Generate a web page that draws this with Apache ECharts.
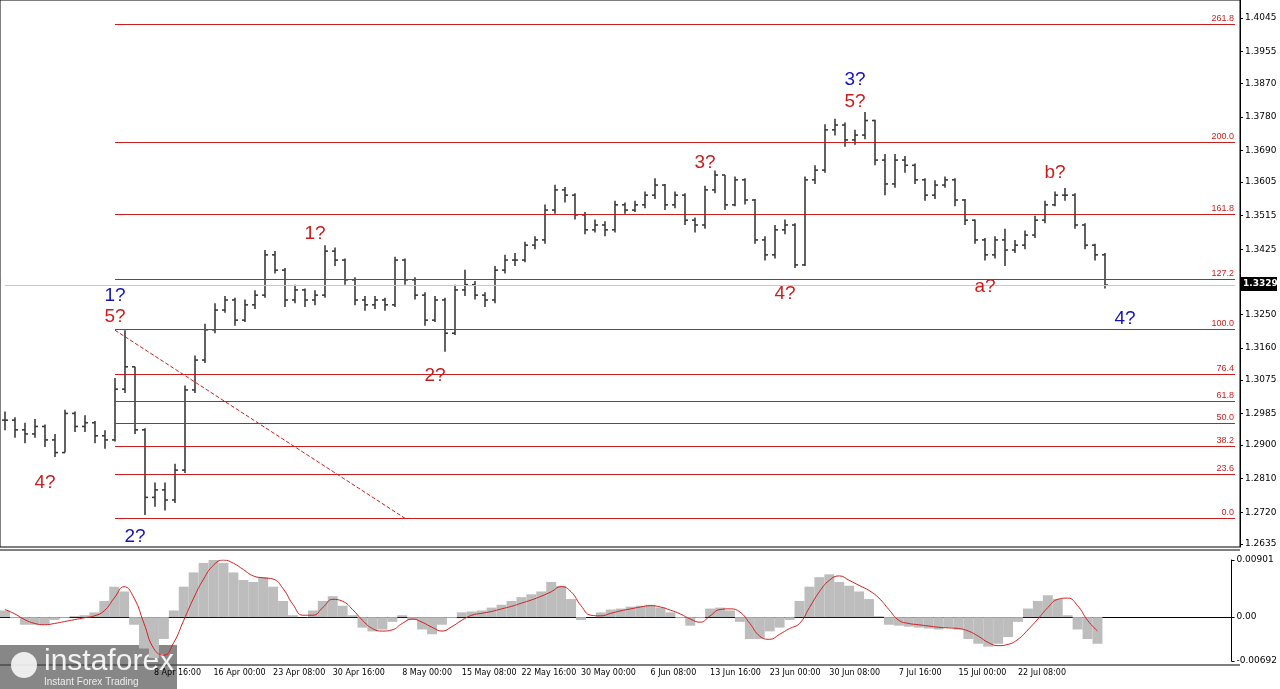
<!DOCTYPE html>
<html><head><meta charset="utf-8">
<script src="https://cdn.jsdelivr.net/npm/echarts@6/dist/echarts.min.js"></script>
<style>html,body{margin:0;padding:0;background:#fff}#c{width:1280px;height:689px}</style>
</head><body><div id="c"></div>
<script>
const closes=[1.2967,1.2941,1.2930,1.2950,1.2914,1.2880,1.2985,1.2950,1.2960,1.2925,
1.2914,1.3050,1.3110,1.2941,1.2760,1.2780,1.2753,1.2833,1.3048,1.3128,
1.3209,1.3262,1.3289,1.3235,1.3276,1.3302,1.3410,1.3369,1.3289,1.3316,
1.3289,1.3302,1.3420,1.3396,1.3343,1.3289,1.3276,1.3289,1.3276,1.3396,
1.3343,1.3302,1.3235,1.3289,1.3200,1.3316,1.3330,1.3302,1.3289,1.3369,
1.3396,1.3396,1.3436,1.3450,1.3530,1.3584,1.3570,1.3517,1.3477,1.3490,
1.3477,1.3544,1.3530,1.3544,1.3570,1.3597,1.3544,1.3570,1.3503,1.3490,
1.3584,1.3624,1.3544,1.3611,1.3557,1.3450,1.3410,1.3477,1.3490,1.3383,
1.3611,1.3637,1.3745,1.3758,1.3718,1.3731,1.3770,1.3664,1.3600,1.3664,
1.3650,1.3611,1.3570,1.3597,1.3611,1.3557,1.3503,1.3450,1.3410,1.3450,
1.3423,1.3436,1.3463,1.3503,1.3544,1.3570,1.3570,1.3490,1.3436,1.3410,
1.3329];
const highs=[1.2990,1.2975,1.2960,1.2970,1.2955,1.2930,1.2995,1.2990,1.2980,1.2965,
1.2940,1.3080,1.3208,1.3110,1.2945,1.2800,1.2800,1.2850,1.3060,1.3140,
1.3225,1.3280,1.3300,1.3295,1.3290,1.3315,1.3423,1.3420,1.3375,1.3330,
1.3320,1.3315,1.3436,1.3430,1.3400,1.3350,1.3300,1.3300,1.3295,1.3405,
1.3400,1.3350,1.3310,1.3300,1.3295,1.3330,1.3370,1.3340,1.3310,1.3380,
1.3410,1.3415,1.3445,1.3460,1.3545,1.3598,1.3592,1.3575,1.3525,1.3505,
1.3500,1.3555,1.3550,1.3555,1.3580,1.3615,1.3600,1.3580,1.3575,1.3510,
1.3595,1.3636,1.3624,1.3620,1.3615,1.3560,1.3460,1.3490,1.3505,1.3495,
1.3620,1.3650,1.3760,1.3775,1.3765,1.3745,1.3793,1.3772,1.3680,1.3680,
1.3675,1.3655,1.3615,1.3610,1.3620,1.3615,1.3560,1.3505,1.3455,1.3460,
1.3480,1.3450,1.3475,1.3515,1.3555,1.3580,1.3589,1.3575,1.3495,1.3440,
1.3415];
const lows=[1.2940,1.2920,1.2905,1.2920,1.2895,1.2868,1.2880,1.2935,1.2935,1.2905,
1.2890,1.2910,1.3040,1.2930,1.2713,1.2735,1.2725,1.2745,1.2825,1.3040,
1.3120,1.3200,1.3255,1.3220,1.3230,1.3265,1.3295,1.3360,1.3270,1.3280,
1.3270,1.3275,1.3295,1.3380,1.3330,1.3275,1.3260,1.3265,1.3260,1.3270,
1.3330,1.3290,1.3220,1.3230,1.3150,1.3195,1.3300,1.3290,1.3270,1.3280,
1.3360,1.3380,1.3390,1.3425,1.3440,1.3520,1.3550,1.3505,1.3465,1.3470,
1.3460,1.3470,1.3520,1.3525,1.3535,1.3560,1.3530,1.3535,1.3490,1.3470,
1.3480,1.3575,1.3530,1.3540,1.3545,1.3440,1.3395,1.3400,1.3465,1.3375,
1.3380,1.3600,1.3630,1.3730,1.3700,1.3705,1.3720,1.3650,1.3570,1.3590,
1.3630,1.3600,1.3555,1.3560,1.3590,1.3540,1.3490,1.3440,1.3395,1.3400,
1.3380,1.3415,1.3425,1.3455,1.3495,1.3540,1.3555,1.3480,1.3425,1.3395,
1.3320];
const macdHist=[0.00105,-0.00015,-0.0012,-0.0012,-0.0012,-0.00045,-0.00015,0.00015,0.0003,0.00075,
0.00255,0.0048,0.00405,-0.0012,-0.00495,-0.00645,-0.00345,0.00105,0.0048,0.00705,
0.00855,0.00915,0.00855,0.00705,0.00585,0.00555,0.0063,0.0048,0.00255,0.0003,
0,0.00105,0.00255,0.0033,0.0018,0.0003,-0.00165,-0.00225,-0.00195,-0.00075,
0.0003,-0.00045,-0.00195,-0.0027,-0.0012,-0.00015,0.00075,0.0009,0.00105,0.0015,
0.00195,0.00255,0.00315,0.0036,0.00405,0.00555,0.00495,0.00285,-0.00045,0,
0.00075,0.0012,0.00135,0.00165,0.0018,0.00195,0.0015,0.00075,-0.00015,-0.00135,
-0.00015,0.00135,0.0015,0.00105,-0.00075,-0.00345,-0.00345,-0.00225,-0.00165,-0.00045,
0.00255,0.0048,0.0063,0.00675,0.00555,0.00495,0.00405,0.00285,0.00015,-0.0012,
-0.00135,-0.0015,-0.00165,-0.0018,-0.00195,-0.00165,-0.00195,-0.00345,-0.0042,-0.00465,
-0.0042,-0.00315,-0.00075,0.00135,0.00255,0.00345,0.00285,0.0003,-0.00195,-0.00345,
-0.0042];
const macdSignal=[0.0012,0.0005,-0.0004,-0.0010,-0.0012,-0.0010,-0.0007,-0.0004,-0.0001,0.0002,
0.0010,0.0030,0.0048,0.0030,-0.0010,-0.0050,-0.0060,-0.0040,-0.0005,0.0030,
0.0060,0.0082,0.0090,0.0085,0.0075,0.0065,0.0062,0.0060,0.0045,0.0020,
0.0003,0.0003,0.0015,0.0028,0.0025,0.0012,-0.0005,-0.0018,-0.0022,-0.0020,
-0.0010,-0.0003,-0.0008,-0.0016,-0.0022,-0.0015,-0.0005,0.0003,0.0006,0.0009,
0.0013,0.0017,0.0022,0.0027,0.0033,0.0040,0.0048,0.0040,0.0018,0.0003,
0.0002,0.0006,0.0010,0.0013,0.0016,0.0018,0.0016,0.0011,0.0005,-0.0003,
-0.0008,0.0002,0.0012,0.0013,0.0008,-0.0010,-0.0030,-0.0035,-0.0027,-0.0018,
-0.0010,0.0015,0.0040,0.0058,0.0065,0.0058,0.0050,0.0042,0.0030,0.0012,
-0.0005,-0.0010,-0.0012,-0.0014,-0.0016,-0.0017,-0.0018,-0.0022,-0.0030,-0.0040,
-0.0045,-0.0043,-0.0035,-0.0020,-0.0003,0.0015,0.0028,0.0030,0.0018,-0.0005,
-0.0022];
const priceTicks=[1.2635,1.2720,1.2810,1.2900,1.2985,1.3075,1.3160,1.3250,1.3425,1.3515,1.3605,1.3690,1.3780,1.3870,1.3955,1.4045];
const macdTicks=[-0.00692,0,0.00901];
const fibLabels=['0.0','23.6','38.2','50.0','61.8','76.4','100.0','127.2','161.8','200.0','261.8'];
const fibValues=[1.2704,1.2822,1.2897,1.2959,1.3018,1.3090,1.3211,1.3345,1.3519,1.3712,1.4029];
const dateLabels=['8 Apr 16:00','16 Apr 00:00','23 Apr 08:00','30 Apr 16:00','8 May 00:00','15 May 08:00','22 May 16:00','30 May 00:00','6 Jun 08:00','13 Jun 16:00','23 Jun 00:00','30 Jun 08:00','7 Jul 16:00','15 Jul 00:00','22 Jul 08:00'];
const dateIdx=[15,21,27,33,40,46,52,58,65,71,77,83,90,96,102];
const waveText=['4?','1?','5?','2?','1?','2?','3?','4?','3?','5?','a?','b?','4?'];
const waveIdx=[4,11,11,13,31,43,70,78,85,85,98,105,112];
const waveVal=[1.2798,1.3301,1.3243,1.2655,1.3467,1.3085,1.3657,1.3305,1.3878,1.3819,1.3325,1.3629,1.3240];
const waveColor=['r','b','r','b','r','r','r','r','b','r','r','r','b'];
const lastPrice=1.3329;

const N=124;
const cats=[];for(let i=0;i<N;i++)cats.push(i);
const ohlc=closes.map((c,i)=>[i,i>0?closes[i-1]:c,c,lows[i],highs[i]]);
const RED='#c81e1e',BLUE='#1414b4';
const fibLines=fibValues.map((v,k)=>[{coord:[11,v],label:{show:true,formatter:fibLabels[k],position:'insideEndTop',color:RED,fontSize:9,distance:1}},{coord:[N-1,v]}]);
fibLines.push([{coord:[11,1.3208],lineStyle:{type:'dashed',width:1,color:RED},label:{show:false}},{coord:[40,1.2704]}]);
fibLines.push([{coord:[0,lastPrice],lineStyle:{color:'#c8c8c8',width:1},label:{show:false}},{coord:[N-1,lastPrice]}]);
const chart=echarts.init(document.getElementById('c'));
chart.setOption({
animation:false,
grid:[{left:0,right:40,top:0,height:547,show:true,borderColor:'#000',borderWidth:1},
      {left:0,right:40,top:560,height:101}],
xAxis:[{type:'category',data:cats,gridIndex:0,axisLabel:{show:false},axisTick:{show:false},axisLine:{show:false}},
       {type:'category',data:cats,gridIndex:1,axisLine:{lineStyle:{color:'#000'}},
        axisTick:{interval:(i)=>dateIdx.includes(i),alignWithLabel:true,lineStyle:{color:'#000'},length:4},
        axisLabel:{interval:(i)=>dateIdx.includes(i),formatter:(v)=>{const k=dateIdx.indexOf(+v);return k>=0?dateLabels[k]:'';},align:'left',fontSize:8,color:'#000',fontFamily:'DejaVu Sans',margin:8}}],
yAxis:[{type:'value',gridIndex:0,position:'right',min:1.2627,max:1.4093,splitLine:{show:false},
        axisLine:{show:true,lineStyle:{color:'#000'}},axisTick:{show:true,customValues:priceTicks,length:3,lineStyle:{color:'#000'}},
        axisLabel:{customValues:priceTicks,formatter:(v)=>v.toFixed(4),fontSize:9,color:'#000',fontFamily:'DejaVu Sans',margin:5}},
       {type:'value',gridIndex:1,position:'right',min:-0.00692,max:0.00901,splitLine:{show:false},
        axisLine:{show:true,lineStyle:{color:'#000'}},axisTick:{show:true,customValues:macdTicks,length:3},
        axisLabel:{customValues:macdTicks,formatter:(v)=>v===0?'0.00':v.toFixed(5),fontSize:9,color:'#000',fontFamily:'DejaVu Sans',margin:5}}],
series:[
{type:'custom',xAxisIndex:0,yAxisIndex:0,data:ohlc,encode:{x:0,y:[1,2,3,4]},
 renderItem:(p,api)=>{const x=api.value(0);const o=api.coord([x,api.value(1)]),c=api.coord([x,api.value(2)]),l=api.coord([x,api.value(3)]),h=api.coord([x,api.value(4)]);
  const st={stroke:'#3a3a3a',lineWidth:1.6};
  return {type:'group',children:[
   {type:'line',shape:{x1:l[0],y1:l[1],x2:h[0],y2:h[1]},style:st},
   {type:'line',shape:{x1:o[0]-3,y1:o[1],x2:o[0],y2:o[1]},style:st},
   {type:'line',shape:{x1:c[0],y1:c[1],x2:c[0]+3,y2:c[1]},style:st}]};},
 markLine:{symbol:'none',silent:true,lineStyle:{color:RED,width:1,type:'solid'},data:fibLines},
 z:3},
{type:'scatter',xAxisIndex:0,yAxisIndex:0,symbolSize:0,itemStyle:{opacity:1},emphasis:{disabled:true},
 data:waveText.map((t,i)=>({value:[waveIdx[i],waveVal[i]],label:{show:true,formatter:t,color:waveColor[i]==='b'?BLUE:RED,fontSize:19,fontFamily:'Arial'}})),z:5},
{type:'bar',xAxisIndex:1,yAxisIndex:1,data:macdHist,barCategoryGap:'0%',itemStyle:{color:'#bdbdbd'}},
{type:'line',xAxisIndex:1,yAxisIndex:1,data:macdSignal,smooth:true,showSymbol:false,lineStyle:{color:'#d02020',width:1}}
],
graphic:[
{type:'line',shape:{x1:0,y1:550,x2:1240,y2:550},style:{stroke:'#000',lineWidth:1}},
{type:'line',shape:{x1:0,y1:665,x2:1240,y2:665},style:{stroke:'#000',lineWidth:1}},
{type:'group',left:1240,top:284-7,children:[{type:'rect',shape:{x:0,y:0,width:37,height:14},style:{fill:'#000'}},
 {type:'text',style:{x:3,y:2,text:lastPrice.toFixed(4),fill:'#fff',font:'bold 9px DejaVu Sans'}}]},
{type:'group',left:0,top:645,z:100,children:[{type:'rect',shape:{x:0,y:0,width:177,height:44},style:{fill:'rgba(70,70,70,0.65)'}},
 {type:'circle',shape:{cx:24,cy:20,r:13},style:{fill:'rgba(255,255,255,0.85)'}},
 {type:'text',style:{x:44,y:2,text:'instaforex',fill:'rgba(255,255,255,0.9)',font:'30px Arial'}},
 {type:'text',style:{x:44,y:32,text:'Instant Forex Trading',fill:'rgba(255,255,255,0.85)',font:'10px Arial'}}]}
]
});
</script></body></html>
